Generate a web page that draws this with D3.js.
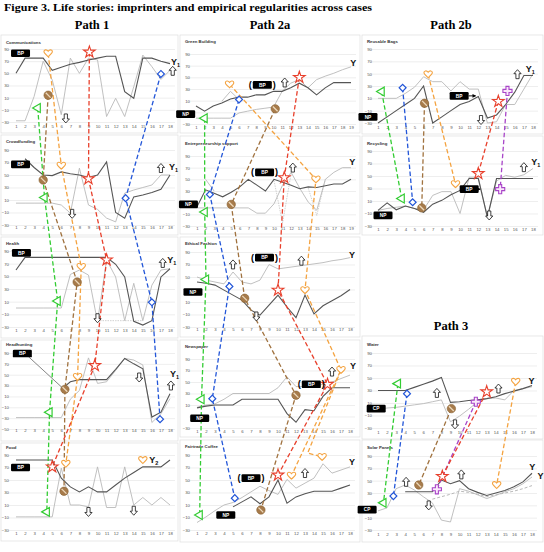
<!DOCTYPE html>
<html>
<head>
<meta charset="utf-8">
<script src="https://cdn.jsdelivr.net/npm/d3@7"></script>
<style>
  body { margin: 0; background: #fff; }
  svg text { font-family: Arial, "Liberation Sans", sans-serif; }
  .serif { font-family: "Liberation Serif", "Times New Roman", serif; font-weight: bold; }
</style>
</head>
<body>
<svg id="fig" width="544" height="552"></svg>
<script>
// ---- text ----
const figTitle = "Figure 3. Life stories: imprinters and empirical regularities across cases";
const pathNames = ["Path 1", "Path 2a", "Path 2b", "Path 3"];

// ---- axes ----
const cats18 = [1,2,3,4,5,6,7,8,9,10,11,12,13,14,15,16,17,18];
const cats19 = [1,2,3,4,5,6,7,8,9,10,11,12,13,14,15,16,17,18,19];
const ticksA = [90,70,50,30,10,-10,-30];
const ticksB = [90,70,50,30,10,-10,-30,-50];

// ---- Path 1 ----
const commDark  = [50,75,75,75,55,60,65,68,72,75,78,78,20,9,75,75,70,66];
const commLight = [-28,-28,12,70,39,-18,75,50,75,72,-21,9,-21,28,80,61,40,55];
const commMarks = [["tri",3.4,-7,"g"],["no",4.55,14,"n"],["heart",4.55,83,"o"],["star",9.1,85,"r"],["dia",17,49,"b"],["up",18.3,54],["down",6.5,-24]];
const commTags  = [["BP",1.5,83]];
const commY     = [["Y","1",18.1,68]];

const crowdDark  = [null,76,62,50,49,55,52,50,46,50,71,-10,-19,15,18,22,27,50];
const crowdLight = [5,5,5,5,5,2,-11,61,2,-5,-19,-25,21,26,30,34,50,50];
const crowdMarks = [["no",4,42,"n"],["heart",6,65,"o"],["star",9,44,"r"],["tri",4.15,14,"g"],["dia",13.1,13,"b"],["down",7.2,-12],["up",17,61]];
const crowdTags  = [["BP",1.5,67]];
const crowdY     = [["Y","1",17.9,63]];

const healthDark  = [60,80,80,80,80,80,80,80,80,80,80,69,49,-21,-27,-20,49,62];
const healthLight = [0,0,0,0,0,0,53,60,52,-22,76,49,-20,39,-20,36,60,62];
const healthDot   = [null,null,null,null,null,null,null,null,null,-20,-20,-20,-20,-20,-20,null,null,null];
const healthMarks = [["tri",5.6,11,"g"],["heart",8.2,65,"o"],["no",7.75,41,"n"],["star",11,76,"r"],["dia",16,9,"b"],["down",10,-16],["up",17.2,71]];
const healthTags  = [["BP",1.6,87]];
const healthY     = [["Y","1",17.7,76]];

const headDark  = [null,null,null,null,null,23,37,41,41,41,41,60,80,70,61,-28,-19,15];
const headLight = [-29,-29,-29,-29,-29,-29,5,21,81,34,37,58,80,77,68,-38,-22,6];
const headMarks = [["tri",4.7,-19,"g"],["heart",7.8,46,"o"],["no",6.4,23,"n"],["star",9.7,67,"r"],["dia",16.9,-32,"b"],["down",14.6,45],["up",18.1,30]];
const headTags  = [["BP",1.7,89,false,6.4,23]];
const headY     = [["Y","1",18,52]];

const foodDark  = [82,82,82,82,82,53,39,31,39,31,31,42,53,62,71,71,71,82];
const foodLight = [-9,-9,-9,-9,-9,69,10,10,7,71,6,6,71,10,22,10,22,10];
const foodMarks = [["tri",4.4,-1,"g"],["star",5,71,"r"],["heart",6.5,76,"o"],["no",6.3,32,"n"],["down",9,-1],["down",14,1],["heart",15,82]];
const foodTags  = [["BP",1.5,70]];
const foodY     = [["Y","2",15.7,82]];

// ---- Path 2a ----
const gbDark   = [1,-8,1,6,13,16,16,20,20,26,26,32,40,32,20,32,41,41,41];
const gbLight  = [-20,-20,-20,-20,-20,-11,-8,-5,-3,-1,26,40,46,32,46,52,57,63,68];
const gbLight2 = [null,null,null,9,26,12,null,null,null,null,null,null,null,null,null,null,null,null,null];
const gbMarks  = [["tri",2,-20,"g"],["dia",6,12,"b"],["heart",4.9,38,"o"],["no",10.2,-4,"n"],["star",13,50,"r"],["up",11.3,41]];
const gbTags   = [["NP",-0.2,-13],["BP",8.7,37,true]];
const gbY      = [["Y","",18.9,75]];

const esDark   = [3,32,26,20,28,37,50,40,30,50,45,40,34,37,36,39,42,42,50];
const esLight  = [1,1,1,1,1,1,1,-8,-8,8,40,62,35,11,-3,50,62,70,70];
const esLight2 = [null,50,30,null,null,null,null,null,null,null,null,null,null,null,null,null,null,null,null];
const esDot    = [null,null,null,null,null,null,null,null,null,48,-25,60,null,35,-12,50,null,null,null];
const esMarks  = [["tri",1.9,-6,"g"],["dia",2.5,24,"b"],["no",5,7,"n"],["star",11.2,53,"r"],["up",12.2,70],["heart",14.9,50,"o"]];
const esTags   = [["NP",0,7],["BP",8.9,62,true]];
const esY      = [["Y","",18.8,80]];

const efDark  = [42,40,37,29,21,13,-3,-11,5,21,2,-15,21,-9,4,12,20,30];
const efLight = [50,45,42,39,58,42,39,45,70,63,65,67,69,71,73,76,78,81];
const efMarks = [["tri",2,46,"g"],["dia",4.6,35,"b"],["no",6.3,16,"n"],["down",7.6,-13],["up",5,70],["star",10,29,"r"],["heart",13,29,"o"],["up",12.6,76]];
const efTags  = [["NP",0.55,26],["BP",8.5,81,true]];
const efY     = [["Y","",17.9,86]];

const npDark  = [5,8,10,10,10,20,20,20,20,20,-5,-20,2,0,25,40,40,40];
const npLight = [6,10,12,20,30,30,30,30,30,40,59,42,42,43,46,50,56,62];
const npMarks = [["tri",1.5,20,"g"],["dia",2.7,21,"b"],["no",12,27,"n"],["star",15.5,46,"r"],["up",16,68],["heart",17,71,"o,o2"]];
const npTags  = [["NP",1.3,-13],["BP",13.7,46,true]];
const npY     = [["Y","",18,77]];

const fcDark  = [null,null,null,null,7,15,23,12,23,50,13,23,28,32,32,32,37,42];
const fcLight = [-18,-9,1,10,14,22,31,40,33,27,51,37,45,53,76,61,66,71];
const fcMarks = [["tri",1.3,-6,"g"],["dia",5.2,21,"b"],["no",8.1,2,"n"],["star",10,58,"r"],["heart",11.5,57,"o"],["up",13,61],["pt",13.3,93,"o2"],["heart",14.9,87,"o2"]];
const fcTags  = [["BP",7,53,true],["NP",4.2,-6]];
const fcY     = [["Y","",17.9,79]];

// ---- Path 2b ----
const rbDark  = [-30,-20,-10,0,10,30,-30,-20,-10,0,5,13,-22,-17,0,20,47,47];
const rbLight = [10,10,10,18,28,45,37,37,22,37,25,25,-30,-28,0,0,25,50];
const rbMarks = [["tri",1.4,21,"g"],["dia",3.7,27,"b"],["heart",6.5,49,"o"],["no",6.1,2,"n"],["down",12.3,-25],["star",14.2,5,"r"],["cross",15.2,22,"p"],["up",16.3,49]];
const rbTags  = [["NP",-0.1,-20],["BP",9.9,14,false,11.8,14]];
const rbY     = [["Y","1",17.2,57]];

const recDark  = [-5,7,-4,2,-2,-8,5,11,20,27,46,46,-16,46,46,46,46,46];
const recLight = [-5,-2,0,2,-2,-4,19,25,25,-10,48,48,-16,42,51,48,52,62];
const recMarks = [["tri",3.6,14,"g"],["dia",4.8,8,"b"],["no",5.8,-1,"n"],["heart",9.5,37,"o"],["star",12,54,"r"],["down",13.2,-13],["cross",14.4,29,"p"],["up",17,64]];
const recTags  = [["NP",1.55,-13],["BP",11,29,false,12.3,29]];
const recY     = [["Y","1",17.8,72]];

// ---- Path 3 ----
const waterDark  = [30,30,30,30,35,40,45,51,11,12,14,15,17,20,25,29,33,38];
const waterLight = [0,2,3,5,7,9,12,15,-20,-11,0,12,17,18,15,30,33,36];
const waterMarks = [["tri",3.2,41,"g"],["dia",4.2,25,"b"],["up",7.5,26],["no",9.1,1,"n"],["down",9.5,-24],["cross",11.8,12,"p"],["star",13,28,"r"],["up",14.3,33],["heart",16.2,44,"o"]];
const waterTags  = [["CP",0.8,1]];
const waterY     = [["Y","",17.6,46]];

const solarDark  = [null,null,null,32,32,32,32,51,45,50,37,31,26,30,34,40,48,62];
const solarLight = [1,6,37,43,35,24,14,-14,-17,37,33,27,21,26,32,37,45,56];
const solarDash  = [null,null,null,null,null,null,20,24,28,33,31,28,24,27,30,33,37,42];
const solarMarks = [["tri",1.6,14,"g"],["dia",2.7,25,"b"],["up",4.1,48],["no",5.5,43,"n"],["down",6.6,10],["cross",7.5,36,"p"],["star",8.1,57,"r"],["up",10.2,60],["heart",14.1,43,"o"]];
const solarTags  = [["CP",-0.2,3]];
const solarY     = [["Y","",17.7,72],["Y","",18.6,57]];

// panel list, column order top to bottom
const panels = [
  {id:"comm",   col:0, name:"Communications", cats:cats18, ticks:ticksA, series:[[commLight,"light"],[commDark,"dark"]], marks:commMarks, tags:commTags, ys:commY},
  {id:"crowd",  col:0, name:"Crowdfunding",   cats:cats18, ticks:ticksA, series:[[crowdLight,"light"],[crowdDark,"dark"]], marks:crowdMarks, tags:crowdTags, ys:crowdY},
  {id:"health", col:0, name:"Health",         cats:cats18, ticks:ticksA, series:[[healthDot,"dot"],[healthLight,"light"],[healthDark,"dark"]], marks:healthMarks, tags:healthTags, ys:healthY},
  {id:"head",   col:0, name:"Headhunting",    cats:cats18, ticks:ticksB, series:[[headLight,"light"],[headDark,"dark"]], marks:headMarks, tags:headTags, ys:headY},
  {id:"food",   col:0, name:"Food",           cats:cats18, ticks:ticksA, series:[[foodLight,"light"],[foodDark,"dark"]], marks:foodMarks, tags:foodTags, ys:foodY},
  {id:"gb",     col:1, name:"Green Building", cats:cats19, ticks:ticksA, series:[[gbLight,"light"],[gbLight2,"light"],[gbDark,"dark"]], marks:gbMarks, tags:gbTags, ys:gbY},
  {id:"es",     col:1, name:"Entrepreneurship support", cats:cats19, ticks:ticksA, series:[[esDot,"dot"],[esLight,"light"],[esLight2,"light"],[esDark,"dark"]], marks:esMarks, tags:esTags, ys:esY},
  {id:"ef",     col:1, name:"Ethical Fashion", cats:cats18, ticks:ticksA, series:[[efLight,"light"],[efDark,"dark"]], marks:efMarks, tags:efTags, ys:efY},
  {id:"np",     col:1, name:"Newspaper",      cats:cats18, ticks:ticksA, series:[[npLight,"light"],[npDark,"dark"]], marks:npMarks, tags:npTags, ys:npY},
  {id:"fc",     col:1, name:"Fairtrade Coffee", cats:cats18, ticks:ticksA, series:[[fcLight,"light"],[fcDark,"dark"]], marks:fcMarks, tags:fcTags, ys:fcY},
  {id:"rb",     col:2, name:"Reusable Bags",  cats:cats18, ticks:ticksA, series:[[rbLight,"light"],[rbDark,"dark"]], marks:rbMarks, tags:rbTags, ys:rbY},
  {id:"rec",    col:2, name:"Recycling",      cats:cats18, ticks:ticksA, series:[[recLight,"light"],[recDark,"dark"]], marks:recMarks, tags:recTags, ys:recY},
  {id:"water",  col:3, name:"Water",          cats:cats18, ticks:ticksA, series:[[waterLight,"light"],[waterDark,"dark"]], marks:waterMarks, tags:waterTags, ys:waterY},
  {id:"solar",  col:3, name:"Solar Panels",   cats:cats18, ticks:ticksA, series:[[solarDash,"dash"],[solarLight,"light"],[solarDark,"dark"]], marks:solarMarks, tags:solarTags, ys:solarY}
];

// ---- layout (pixels) ----
const layout = {
  comm:   {box:[1,35,177,98],   tY:44,  xr:[16,170],  yr:[122,49],  xlab:125, ylx:9},
  crowd:  {box:[1,135,177,100], tY:143, xr:[16,170],  yr:[225,150], xlab:226, ylx:9},
  health: {box:[1,237,177,101], tY:245, xr:[16,170],  yr:[327,251], xlab:329, ylx:9},
  head:   {box:[1,340,177,101], tY:346, xr:[16,170],  yr:[429,353], xlab:429, ylx:9},
  food:   {box:[1,443,177,98],  tY:449, xr:[16,170],  yr:[530,455], xlab:532, ylx:9},
  gb:     {box:[180,35,180,98], tY:43,  xr:[196,351], yr:[124,54],  xlab:126, ylx:190},
  es:     {box:[180,136,180,98],tY:145, xr:[197,351], yr:[226,156], xlab:227, ylx:190},
  ef:     {box:[180,237,180,100],tY:245,xr:[197,350], yr:[327,252], xlab:328, ylx:190},
  np:     {box:[180,340,180,97],tY:348, xr:[197,350], yr:[428,359], xlab:430, ylx:190},
  fc:     {box:[180,440,180,102],tY:448,xr:[197,350], yr:[530,455], xlab:532, ylx:190},
  rb:     {box:[362,35,181,99], tY:43,  xr:[378,533], yr:[123,49],  xlab:126, ylx:372},
  rec:    {box:[362,136,181,99],tY:145, xr:[378,533], yr:[226,151], xlab:228, ylx:372},
  water:  {box:[362,336,181,103],tY:346,xr:[378,532], yr:[428,353], xlab:431, ylx:372},
  solar:  {box:[362,440,181,102],tY:449,xr:[378,532], yr:[530,456], xlab:533, ylx:372}
};
const headerPos = [[92,29],[270,29],[451,29],[451,330]];

const lineStyle = {
  dark:  {c:"#555", w:1.1, d:null},
  light: {c:"#b9b9b9", w:0.9, d:null},
  dot:   {c:"#bdbdbd", w:0.7, d:"1.5,1"},
  dash:  {c:"#b0b0b0", w:0.9, d:"3,2"}
};
const chainColor = {g:"#33cc33", b:"#2356d8", o:"#f4a340", n:"#a0723f", r:"#e8402c", p:"#a845c8"};

const svg = d3.select("#fig");

svg.append("text").attr("class","serif").attr("x",4).attr("y",11)
  .attr("font-size",10.5).attr("textLength",368).attr("lengthAdjust","spacingAndGlyphs")
  .text(figTitle);

svg.selectAll("text.hdr").data(pathNames).join("text")
  .attr("class","serif hdr").attr("x",(d,i)=>headerPos[i][0]).attr("y",(d,i)=>headerPos[i][1])
  .attr("text-anchor","middle").attr("font-size",12.5).text(d=>d);

// arrow head for BP pointers
svg.append("defs").append("marker").attr("id","ah").attr("viewBox","0 0 6 6")
  .attr("refX",5).attr("refY",3).attr("markerWidth",4).attr("markerHeight",4).attr("orient","auto")
  .append("path").attr("d","M0,0 L6,3 L0,6Z").attr("fill","#000");

// panels: box, grid, labels, lines
panels.forEach(p => {
  const L = layout[p.id];
  const g = svg.append("g");
  g.append("rect").attr("x",L.box[0]).attr("y",L.box[1]).attr("width",L.box[2]).attr("height",L.box[3])
    .attr("fill","#fff").attr("stroke","#dedede").attr("stroke-width",0.7);

  const x = d3.scaleLinear().domain([1, p.cats.length]).range(L.xr);
  const y = d3.scaleLinear().domain([d3.min(p.ticks), d3.max(p.ticks)]).range(L.yr);
  p.x = x; p.y = y;

  // tag boxes hide the tick labels behind them
  const hidden = v => p.tags.some(t => Math.abs(x(t[1]) - (L.ylx - 3)) < 14 && Math.abs(y(t[2]) - y(v)) < 5);

  // gridlines
  const grid = g.append("g").attr("transform",`translate(${L.xr[0]-8},0)`)
    .call(d3.axisRight(y).tickValues(p.ticks).tickSize(L.xr[1]-L.xr[0]+13).tickFormat(""));
  grid.select(".domain").remove();
  grid.selectAll("line").attr("stroke","#e3e3e3").attr("stroke-width",0.6);

  const ya = g.append("g").attr("transform",`translate(${L.ylx},0)`)
    .call(d3.axisLeft(y).tickValues(p.ticks.filter(v => !hidden(v))).tickSize(0).tickPadding(0));
  ya.select(".domain").remove();
  ya.attr("font-size",4.3).selectAll("text").attr("fill","#555");

  const xa = g.append("g").attr("transform",`translate(0,${L.xlab})`)
    .call(d3.axisBottom(x).tickValues(p.cats).tickSize(0).tickPadding(0));
  xa.select(".domain").remove();
  xa.attr("font-size",4.3).selectAll("text").attr("fill","#555");

  g.append("text").attr("x",L.box[0]+5).attr("y",L.tY).attr("font-size",4.3)
    .attr("font-weight","bold").attr("fill","#333").text(p.name);

  const line = d3.line().defined(d => d != null).x((d,i) => x(p.cats[i])).y(d => y(d));
  p.series.forEach(([vals, st]) => {
    const s = lineStyle[st];
    g.append("path").attr("d", line(vals)).attr("fill","none")
      .attr("stroke", s.c).attr("stroke-width", s.w).attr("stroke-dasharray", s.d);
  });
});

// dashed imprinter links, chained down each column
const chains = new Map();
panels.forEach(p => {
  p.marks.forEach(m => {
    if (!m[3]) return;
    m[3].split(",").forEach(k => {
      const key = p.col + "|" + k;
      if (!chains.has(key)) chains.set(key, []);
      chains.get(key).push([p.x(m[1]), p.y(m[2])]);
    });
  });
});
const chainG = svg.append("g");
chains.forEach((pts, key) => {
  const k = key.split("|")[1];
  chainG.append("path").attr("d", d3.line()(pts)).attr("fill","none")
    .attr("stroke", chainColor[k[0]]).attr("stroke-width",1.3).attr("stroke-dasharray","4.5,2.5");
});

// markers
const heartPath = "M0,3.4 C-1.5,2 -4.2,0 -4.2,-1.7 C-4.2,-3.6 -1.5,-4.1 0,-2 C1.5,-4.1 4.2,-3.6 4.2,-1.7 C4.2,0 1.5,2 0,3.4Z";
const arrowPath = "M0,-4.6 L3.6,-0.6 L1.6,-0.6 L1.6,4.4 L-1.6,4.4 L-1.6,-0.6 L-3.6,-0.6Z";

function drawMark(g, type, px, py) {
  const s = g.append("g").attr("transform",`translate(${px},${py})`);
  if (type === "tri") {
    s.append("path").attr("d", d3.symbol(d3.symbolTriangle, 34)()).attr("transform","rotate(-90)")
      .attr("fill","#fff").attr("stroke",chainColor.g).attr("stroke-width",1.2);
  } else if (type === "dia") {
    s.append("path").attr("d", d3.symbol(d3.symbolSquare, 24)()).attr("transform","rotate(45)")
      .attr("fill","#fff").attr("stroke",chainColor.b).attr("stroke-width",1.2);
  } else if (type === "heart") {
    s.append("path").attr("d", heartPath).attr("fill","#fff").attr("stroke",chainColor.o).attr("stroke-width",1.1);
  } else if (type === "star") {
    s.append("path").attr("d", d3.symbol(d3.symbolStar, 42)()).attr("fill","#fff")
      .attr("stroke",chainColor.r).attr("stroke-width",1.1);
  } else if (type === "cross") {
    s.append("path").attr("d", d3.symbol(d3.symbolCross, 46)()).attr("fill","#fbe9fb")
      .attr("stroke",chainColor.p).attr("stroke-width",1.1);
  } else if (type === "no") {
    s.append("circle").attr("r",4.2).attr("fill","#a77b4b").attr("stroke","#87602f").attr("stroke-width",0.6);
    s.append("line").attr("x1",-2.4).attr("y1",-2.4).attr("x2",2.4).attr("y2",2.4)
      .attr("stroke","#ecd9bc").attr("stroke-width",1.3);
  } else if (type === "up" || type === "down") {
    s.append("path").attr("d", arrowPath).attr("transform", type === "down" ? "rotate(180)" : null)
      .attr("fill","#fff").attr("stroke","#111").attr("stroke-width",0.8);
  }
}

const topG = svg.append("g");
panels.forEach(p => {
  p.marks.forEach(m => { if (m[0] !== "pt") drawMark(topG, m[0], p.x(m[1]), p.y(m[2])); });

  // BP / NP / CP tags
  p.tags.forEach(t => {
    const px = p.x(t[1]), py = p.y(t[2]);
    if (t[4] != null) {
      const head = t[3] === false && p.col === 2;
      topG.append("line").attr("x1", head ? px + 9.5 : px + 6).attr("y1", py + (head ? 0 : 3))
        .attr("x2", p.x(t[4]) - (head ? 1 : 3)).attr("y2", p.y(t[5]) - (head ? 0 : 2))
        .attr("stroke", head ? "#000" : "#666").attr("stroke-width", head ? 0.9 : 0.8)
        .attr("marker-end", head ? "url(#ah)" : null);
    }
    topG.append("rect").attr("x",px-9.5).attr("y",py-3.8).attr("width",19).attr("height",7.6)
      .attr("rx",1.2).attr("fill","#000");
    topG.append("text").attr("x",px).attr("y",py+1.7).attr("text-anchor","middle")
      .attr("font-size",4.8).attr("font-weight","bold").attr("fill","#fff").text(t[0]);
    if (t[3] === true) {
      topG.append("text").attr("x",px-12).attr("y",py+3).attr("text-anchor","middle")
        .attr("font-size",9).attr("font-weight","bold").text("(");
      topG.append("text").attr("x",px+12).attr("y",py+3).attr("text-anchor","middle")
        .attr("font-size",9).attr("font-weight","bold").text(")");
    }
  });

  // outcome labels
  p.ys.forEach(yl => {
    const t = topG.append("text").attr("x", p.x(yl[2])).attr("y", p.y(yl[3]) + 3)
      .attr("font-size",9).attr("font-weight","bold").attr("fill","#111").text(yl[0]);
    if (yl[1]) t.append("tspan").attr("font-size",5.5).attr("dy",2).text(yl[1]);
  });
});
</script>
</body>
</html>
